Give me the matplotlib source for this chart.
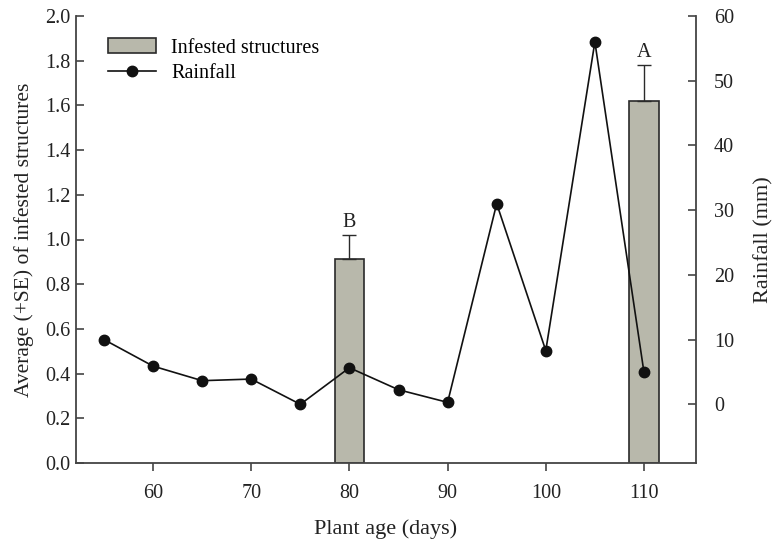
import matplotlib
matplotlib.use("Agg")
import matplotlib.pyplot as plt
from matplotlib.lines import Line2D
from matplotlib.patches import Patch

plt.rcParams['font.family'] = ['Liberation Serif', 'DejaVu Serif']

# Data
days_rain = [55, 60, 65, 70, 75, 80, 85, 90, 95, 100, 105, 110]
rainfall = [10.0, 5.9, 3.65, 3.9, 0.0, 5.65, 2.25, 0.3, 31.0, 8.3, 56.0, 4.95]
days_bar = [80, 110]
infested = [0.913, 1.618]
infested_se = [0.107, 0.163]
letters = ['B', 'A']

fig = plt.figure(figsize=(7.81, 5.42), dpi=100)
ax = fig.add_axes([76/781, (542-463)/542, (696-76)/781, (463-16)/542])
dark = '#2a2a2a'
barcol = '#b8b8ab'

ax.bar(days_bar, infested, width=3.0, color=barcol, edgecolor=dark, linewidth=1.2, zorder=2)
ax.errorbar(days_bar, infested, yerr=[[0, 0], infested_se], fmt='none', ecolor=dark,
            elinewidth=1.0, capsize=5, capthick=1.0, zorder=3)
for x, h, s, l in zip(days_bar, infested, infested_se, letters):
    ax.text(x, h + s + 0.015, l, ha='center', va='bottom', fontsize=14.5, color='#222222')

ax.set_xlim(52.15, 115.3)
ax.set_ylim(0, 2.0)
ax.set_xticks([60, 70, 80, 90, 100, 110])
ax.set_yticks([i * 0.2 for i in range(11)])
ax.set_yticklabels([f"{i*0.2:.1f}" for i in range(11)])
ax.set_xlabel("Plant age (days)", fontsize=16, color='#222222', labelpad=12)
ax.set_ylabel("Average (+SE) of infested structures", fontsize=15.5, color='#222222', labelpad=8)

ax2 = ax.twinx()
ax2.plot(days_rain, rainfall, '-o', color='#111111', markersize=7.5, linewidth=1.2, zorder=4)
ax2.set_ylim(-9.07, 60)
ax2.set_yticks([0, 10, 20, 30, 40, 50, 60])
ax2.set_ylabel("Rainfall (mm)", fontsize=16, color='#222222', labelpad=14)

for a in (ax, ax2):
    a.spines['top'].set_visible(False)
    for s in ('left', 'right', 'bottom'):
        a.spines[s].set_color('#444444')
        a.spines[s].set_linewidth(1.3)
ax2.spines['left'].set_visible(False)
ax2.spines['bottom'].set_visible(False)
ax.spines['right'].set_visible(False)

ax.tick_params(axis='x', direction='out', length=6, width=1.2, color='#444444', labelsize=14.5,
               labelcolor='#222222', pad=9)
ax.tick_params(axis='y', direction='in', length=6, width=1.2, color='#444444', labelsize=14.5,
               labelcolor='#222222', pad=4)
ax2.tick_params(axis='y', direction='in', length=6, width=1.2, color='#444444', labelsize=14.5,
                labelcolor='#222222', pad=13)

handles = [Patch(facecolor=barcol, edgecolor=dark, linewidth=1.2),
           Line2D([0], [0], color='#111111', marker='o', markersize=7.5, linewidth=1.2)]
ax.legend(handles, ['Infested structures', 'Rainfall'], loc='upper left', frameon=False,
          fontsize=14.5, handlelength=2.4, handleheight=0.75, bbox_to_anchor=(0.038, 0.968),
          borderaxespad=0, labelspacing=0.3, handletextpad=0.75)

fig.savefig('out.png', dpi=100)
